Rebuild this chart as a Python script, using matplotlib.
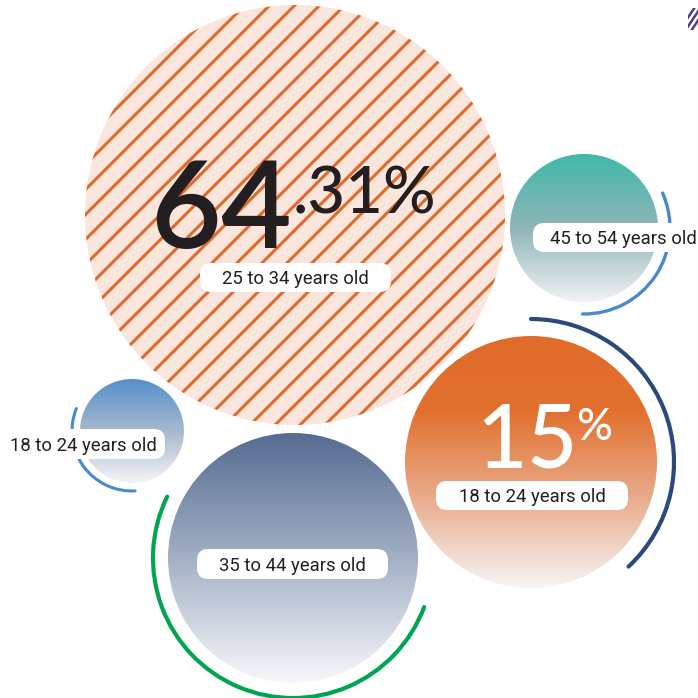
import numpy as np
import matplotlib
matplotlib.use("Agg")
import matplotlib.pyplot as plt
from matplotlib.patches import Circle, Arc, FancyBboxPatch, Rectangle
from matplotlib.colors import LinearSegmentedColormap

# ---- data -------------------------------------------------------------
age_groups = ["25 to 34 years old", "45 to 54 years old", "18 to 24 years old",
              "18 to 24 years old", "35 to 44 years old"]
share_main = "64"
share_main_decimals = ".31%"
share_second = "15"
share_second_sign = "%"

# ---- canvas (pixel coordinates, y measured from the top) ------------
W = H = 698
fig = plt.figure(figsize=(W / 100, H / 100), dpi=100)
ax = fig.add_axes([0, 0, 1, 1])
ax.set_xlim(0, W)
ax.set_ylim(0, H)
ax.set_aspect("equal")
ax.axis("off")


def Y(y):
    return H - y


LABEL_FONT = "Roboto"
NUM_FONT = "Lato"


def gradient_circle(cx, cy, r, stops, z):
    circ = Circle((cx, Y(cy)), r, fc="none", ec="none", zorder=z)
    ax.add_patch(circ)
    cmap = LinearSegmentedColormap.from_list("g", stops)
    grad = np.linspace(0, 1, 256)[:, None]
    img = ax.imshow(grad, cmap=cmap, aspect="auto", origin="upper",
                    extent=[cx - r, cx + r, Y(cy) - r, Y(cy) + r],
                    interpolation="bilinear", zorder=z)
    img.set_clip_path(circ)
    return circ


def arc(cx, cy, r, t1, t2, color, lw, z=5):
    ax.add_patch(Arc((cx, Y(cy)), 2 * r, 2 * r, theta1=t1, theta2=t2,
                     color=color, lw=lw, zorder=z, capstyle="round"))


def label_box(x0, x1, y0, y1, text, tx=None, ha="center", z=8):
    ax.add_patch(FancyBboxPatch((x0, Y(y1)), x1 - x0, y1 - y0,
                                boxstyle="round,pad=0,rounding_size=11",
                                fc="white", ec="none", zorder=z))
    if tx is None:
        tx = (x0 + x1) / 2
    ax.text(tx, Y((y0 + y1) / 2), text, ha=ha, va="center_baseline",
            fontsize=13.3, family=LABEL_FONT, color="#231f20", zorder=z + 1)


# ---- big hatched circle --------------------------------------------
bcx, bcy, br = 295, 215, 210
big = Circle((bcx, Y(bcy)), br, fc="#fae6dc", ec="none", zorder=1)
ax.add_patch(big)
for c in np.arange(273 - 25 * 30, 273 + 25 * 30, 25):
    xs = np.array([-50, W + 50])
    ln, = ax.plot(xs, xs + c, color="#e2692a", lw=2.2, zorder=2,
                  solid_capstyle="butt")
    ln.set_clip_path(big)

# ---- gradient circles ------------------------------------------------
gradient_circle(584, 228, 74, ["#41b9aa", "#8fb5b8", "#f2f2f4"], 1)
gradient_circle(531, 462, 126, [(0.0, "#e06b2a"), (0.3, "#e2712f"),
                                (0.65, "#e9ad8e"), (1.0, "#f7f5f5")], 1)
gradient_circle(132, 431, 52, ["#5690cc", "#a7b8ce", "#f4f4f6"], 1)
gradient_circle(293, 558, 125, ["#566b92", "#a3b0c5", "#f8f8fb"], 1)

# ---- arcs ------------------------------------------------------------
arc(584, 228, 86, -91, 24, "#4a88cf", 2.4)
arc(531, 462, 143, -47, 90, "#2b4a7c", 3.0)
arc(132, 431, 60, 158, 273, "#4a88cf", 2.2)
arc(293, 558, 140, 154, 339.5, "#00a550", 3.0)

# ---- big numbers -----------------------------------------------------
renderer = fig.canvas.get_renderer()

t64 = ax.text(150, Y(248), share_main, ha="left", va="baseline", fontsize=88,
              family=NUM_FONT, fontweight="semibold", color="#231f20", zorder=6)
x_end = t64.get_window_extent(renderer).x1
ax.text(x_end + 1, Y(213), share_main_decimals, ha="left", va="baseline",
        fontsize=47, family=NUM_FONT, fontweight="medium", color="#231f20",
        zorder=6)

t15 = ax.text(476, Y(467), share_second, ha="left", va="baseline", fontsize=63,
              family=NUM_FONT, fontweight="medium", color="white", zorder=6)
x_end = t15.get_window_extent(renderer).x1
ax.text(x_end - 1, Y(440), share_second_sign, ha="left", va="baseline",
        fontsize=32, family=NUM_FONT, fontweight="medium", color="white",
        zorder=6)

# ---- labels ----------------------------------------------------------
label_box(200, 391, 263, 292, age_groups[0])
label_box(533, 720, 223, 252, age_groups[1], tx=550, ha="left")
label_box(436, 628, 481, 510, age_groups[2])
label_box(-20, 165, 429, 459, age_groups[3], tx=10, ha="left")
label_box(197, 388, 549, 579, age_groups[4])

# ---- small striped marker, top right ----------------------------------
clip = Rectangle((688, Y(30)), 12, 22, fc="none", ec="none")
ax.add_patch(clip)
for dy in (-9, 0, 9):
    xs = np.array([680, 705])
    ys = Y(19) + dy + 1.5 * (xs - 693)
    ln, = ax.plot(xs, ys, color="#4b3f8c", lw=1.8, zorder=9,
                  solid_capstyle="butt")
    ln.set_clip_path(clip)

ax.set_xlim(0, W)
ax.set_ylim(0, H)
fig.savefig("out.png", dpi=100, facecolor="white")
